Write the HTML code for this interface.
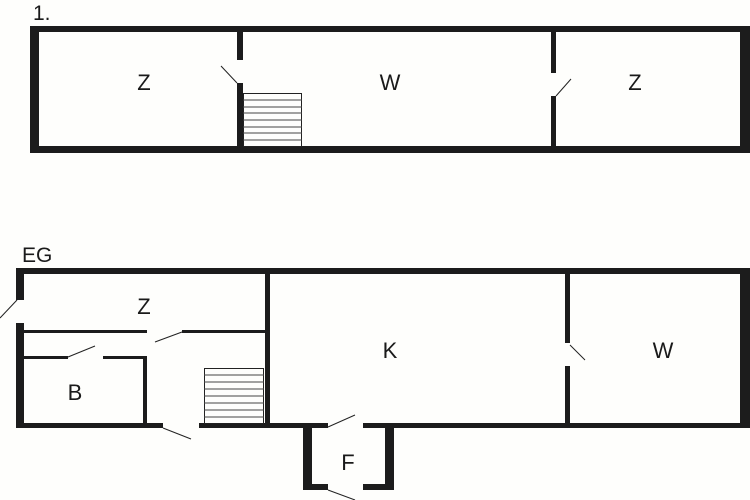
<!DOCTYPE html>
<html><head><style>html,body{margin:0;padding:0;background:#fff}svg{display:block}</style></head><body>
<svg width="750" height="500" viewBox="0 0 750 500" xmlns="http://www.w3.org/2000/svg" font-family="Liberation Sans, sans-serif">
<rect width="750" height="500" fill="#fefefc"/>
<g fill="#1c1c1c">
<!-- top plan -->
<rect x="30" y="26" width="720" height="6"/>
<rect x="30" y="146" width="720" height="7"/>
<rect x="30" y="26" width="9" height="127"/>
<rect x="740" y="26" width="10" height="127"/>
<rect x="237" y="32" width="6" height="28"/>
<rect x="237" y="83" width="6" height="63"/>
<rect x="551" y="32" width="5" height="41"/>
<rect x="551" y="96" width="5" height="50"/>
<!-- EG -->
<rect x="16" y="268" width="734" height="6"/>
<rect x="16" y="268" width="8" height="32"/>
<rect x="16" y="323" width="8" height="105"/>
<rect x="740" y="268" width="10" height="160"/>
<rect x="265" y="274" width="5" height="150"/>
<rect x="565" y="274" width="5" height="69"/>
<rect x="565" y="366" width="5" height="58"/>
<rect x="24" y="330" width="123" height="3"/>
<rect x="182" y="330" width="83" height="3"/>
<rect x="24" y="356" width="44" height="3"/>
<rect x="103" y="356" width="44" height="3"/>
<rect x="143" y="356" width="4" height="68"/>
<rect x="16" y="423" width="147" height="5"/>
<rect x="199" y="423" width="129" height="5"/>
<rect x="363" y="423" width="387" height="5"/>
<rect x="303" y="423" width="9" height="67"/>
<rect x="385" y="423" width="9" height="67"/>
<rect x="303" y="484" width="25" height="6"/>
<rect x="363" y="484" width="31" height="6"/>
</g>
<g stroke="#222" stroke-width="1" fill="none">
<line x1="221" y1="66" x2="237" y2="83"/>
<line x1="556" y1="96" x2="571" y2="79"/>
<line x1="0" y1="318" x2="17" y2="300"/>
<line x1="155" y1="342" x2="182" y2="332"/>
<line x1="68" y1="357" x2="95" y2="346"/>
<line x1="163" y1="428" x2="191" y2="439"/>
<line x1="328" y1="427" x2="355" y2="415"/>
<line x1="328" y1="490" x2="355" y2="500"/>
<line x1="570" y1="345" x2="585" y2="360"/>
<rect x="243.5" y="93.5" width="58" height="53"/>
<rect x="204.5" y="368.5" width="59" height="55"/>
</g>
<g stroke="#444" stroke-width="1">
<line x1="243" y1="100" x2="302" y2="100"/><line x1="243" y1="107" x2="302" y2="107"/>
<line x1="243" y1="113" x2="302" y2="113"/><line x1="243" y1="120" x2="302" y2="120"/>
<line x1="243" y1="127" x2="302" y2="127"/><line x1="243" y1="133" x2="302" y2="133"/>
<line x1="243" y1="140" x2="302" y2="140"/>
<line x1="204" y1="375" x2="264" y2="375"/><line x1="204" y1="382" x2="264" y2="382"/>
<line x1="204" y1="389" x2="264" y2="389"/><line x1="204" y1="396" x2="264" y2="396"/>
<line x1="204" y1="403" x2="264" y2="403"/><line x1="204" y1="410" x2="264" y2="410"/>
<line x1="204" y1="417" x2="264" y2="417"/>
</g>
<g fill="#1a1a1a" font-size="22" text-anchor="middle">
<text x="144" y="90">Z</text>
<text x="390" y="90">W</text>
<text x="635" y="90">Z</text>
<text x="144" y="314">Z</text>
<text x="390" y="358">K</text>
<text x="663" y="358">W</text>
<text x="75" y="400">B</text>
<text x="348" y="470">F</text>
</g>
<text x="33" y="20" font-size="21" fill="#1a1a1a">1.</text>
<text x="22" y="262" font-size="21" fill="#1a1a1a">EG</text>
</svg>
</body></html>
